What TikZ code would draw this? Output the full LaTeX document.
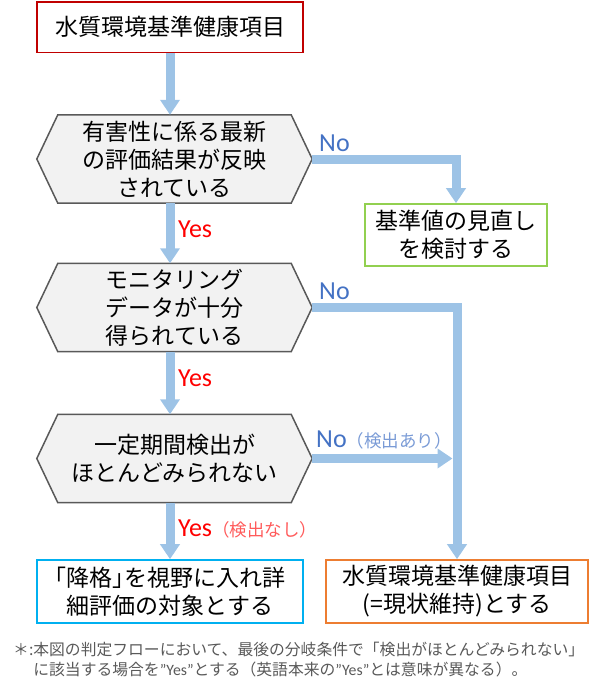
\documentclass[tikz,border=0pt]{standalone}
\usepackage{fontspec}
\setmainfont{Noto Sans CJK JP}
\newfontfamily\latinfont{Carlito}
\newfontfamily\paltfont[RawFeature=+palt]{Noto Sans CJK JP}
\usetikzlibrary{arrows.meta,backgrounds}
\definecolor{flowblue}{HTML}{9DC3E6}
\definecolor{noblue}{HTML}{4472C4}
\definecolor{nolight}{HTML}{7A9BD6}
\definecolor{yeslight}{HTML}{FF5B5B}
\definecolor{hexfill}{HTML}{F2F2F2}
\definecolor{hexedge}{HTML}{595959}
\definecolor{notegray}{HTML}{595959}
\definecolor{boxred}{HTML}{C00000}
\definecolor{boxgreen}{HTML}{92D050}
\definecolor{boxcyan}{HTML}{00B0F0}
\definecolor{boxorange}{HTML}{ED7D31}
\newcommand{\smalllabfont}{\normalfont\fontsize{17.5}{17.5}\selectfont}
\tikzset{
  box/.style={draw, line width=1.6pt, align=center, inner sep=0pt, font=\fontsize{23}{28}\selectfont},
  hexnode/.style={align=center, inner sep=0pt, minimum width=275pt, minimum height=88pt, font=\fontsize{23}{28}\selectfont},
  flow/.style={draw=flowblue, line width=9pt, line join=miter, -{Triangle[length=15pt,width=19pt]}},
  nolab/.style={anchor=west, inner sep=0pt, text=noblue, font=\latinfont\fontsize{26}{26}\selectfont},
  yeslab/.style={anchor=west, inner sep=0pt, text=red, font=\latinfont\fontsize{26}{26}\selectfont}
}
\begin{document}
\begin{tikzpicture}[x=1pt,y=-1pt]
  \useasboundingbox (0,0) rectangle (597,688);
  \node[box, draw=boxred, minimum width=266pt, minimum height=50.5pt] (top) at (170,27.2) {水質環境基準健康項目};
  \node[hexnode] (h1) at (174.5,159) {有害性に係る最新\\の評価結果が反映\\されている};
  \node[box, draw=boxgreen, minimum width=182pt, minimum height=62pt] (review) at (456,235) {基準値の見直し\\を検討する};
  \node[hexnode] (h2) at (174.5,307.5) {モニタリング\\データが十分\\得られている};
  \node[hexnode] (h3) at (174.5,458.5) {一定期間検出が\\ほとんどみられない};
  \node[box, draw=boxcyan, minimum width=266pt, minimum height=63pt] (detail) at (170,591.5) {{\paltfont 「降格」}を視野に入れ詳\\細評価の対象とする};
  \node[box, draw=boxorange, minimum width=262pt, minimum height=63pt] (keep) at (457,591.5) {水質環境基準健康項目\\(=現状維持)とする};
  \begin{scope}[on background layer]
    \foreach \h in {h1,h2,h3}
      \draw[hexedge, fill=hexfill, line width=1.5pt] (\h.west) -- ([xshift=21pt]\h.north west) -- ([xshift=-21pt]\h.north east) -- (\h.east) -- ([xshift=-21pt]\h.south east) -- ([xshift=21pt]\h.south west) -- cycle;
  \end{scope}
  \coordinate (joint) at (h3.east -| keep.north);
  \draw[flow] (top.south) -- (top.south |- h1.north);
  \draw[flow] (top.south |- h1.south) -- (top.south |- h2.north);
  \draw[flow] (top.south |- h2.south) -- (top.south |- h3.north);
  \draw[flow] (top.south |- h3.south) -- (detail.north);
  \draw[flow] (h1.east) -| (review.north);
  \draw[flow] (h2.east) -| (keep.north);
  \draw[flow] (h3.east) -- ([xshift=-4.5pt]joint);
  \node[nolab] (no1) at (319,143) {No};
  \node[nolab] (no2) at (319,291) {No};
  \node[nolab] (no3) at (316,440) {No\textcolor{nolight}{\smalllabfont （検出あり）}};
  \node[yeslab] (yes1) at (178,229) {Yes};
  \node[yeslab] (yes2) at (178,378) {Yes};
  \node[yeslab] (yes3) at (178,529) {Yes\textcolor{yeslight}{\smalllabfont （検出なし）}};
  \node[anchor=west, align=left, inner sep=0pt, text=notegray, font=\fontsize{15.8}{20}\selectfont] (note) at (13,660) {＊:本図の判定フローにおいて、最後の分岐条件で「検出がほとんどみられない」\\\phantom{＊:}に該当する場合を{\latinfont ”Yes”}とする（英語本来の{\latinfont ”Yes”}とは意味が異なる）。};
\end{tikzpicture}
\end{document}
